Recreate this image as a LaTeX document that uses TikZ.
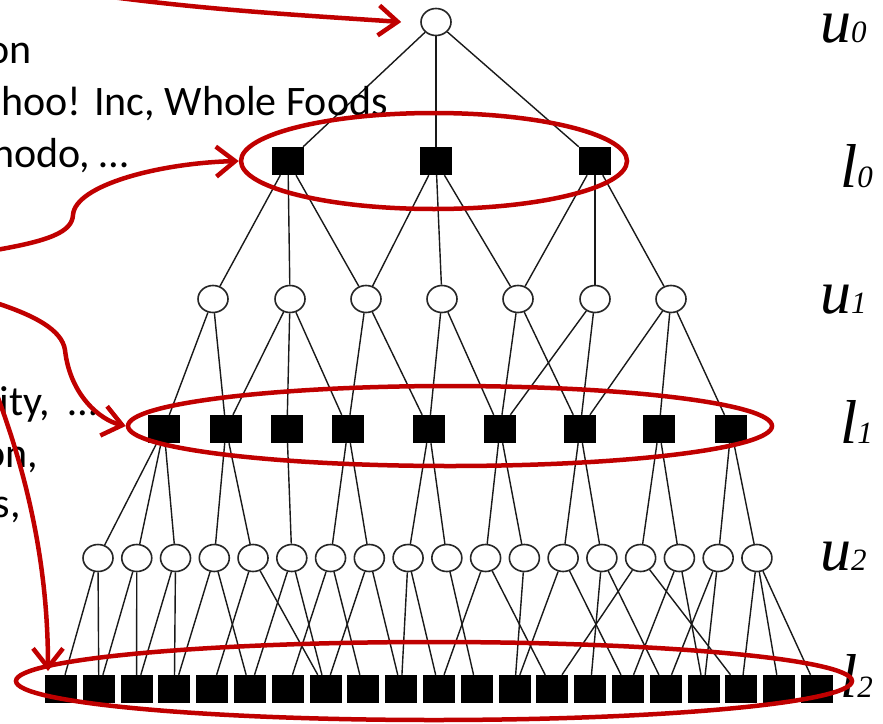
\documentclass[tikz,border=0pt]{standalone}
\usepackage{fontspec}
\setmainfont{Carlito}
\newfontfamily\timesfont{Liberation Serif}
\usetikzlibrary{shapes.geometric,arrows.meta}
\definecolor{myred}{RGB}{192,0,0}
\begin{document}
\begin{tikzpicture}[x=1pt,y=-1pt,
  circ/.style={draw=black!85,ellipse,line width=1.6pt,minimum width=30pt,minimum height=27pt,inner sep=0pt,fill=white},
  sq/.style={fill=black,minimum width=32pt,minimum height=28pt,inner sep=0pt},
  edge/.style={line width=1.4pt,black!90},
  ring/.style={draw=myred,line width=4.5pt,ellipse,inner sep=0pt},
  redarrow/.style={draw=myred,line width=4.5pt,-{Straight Barb[length=19pt,width=30pt]}},
  txt/.style={font=\fontsize{42}{50}\selectfont,inner sep=0pt},
  lab/.style={inner sep=0pt,anchor=base west}
]
\useasboundingbox (0,0) rectangle (883,723);
\fill[white] (0,0) rectangle (883,723);
\clip (0,0) rectangle (883,723);

% graph nodes
\node[circ] (u0) at (436,22) {};
\foreach \i/\x in {1/288,2/436,3/595} \node[sq] (l0-\i) at (\x,161) {};
\foreach \i/\x in {1/213,2/290,3/366,4/442,5/518,6/595,7/671} \node[circ] (u1-\i) at (\x,299) {};
\foreach \i/\x in {1/164,2/226,3/287,4/348,5/429,6/500,7/580,8/659,9/731} \node[sq] (l1-\i) at (\x,429) {};
\foreach \i in {1,...,18} \node[circ] (u2-\i) at ({98+38.76*(\i-1)},558) {};
\foreach \i in {1,...,21} \node[sq] (l2-\i) at ({61+37.8*(\i-1)},689) {};

% edges
\foreach \i in {1,2,3} \draw[edge] (u0) -- (l0-\i);
\foreach \a/\b in {1/1,1/2,1/3,2/3,2/4,2/5,3/5,3/6,3/7} \draw[edge] (l0-\a) -- (u1-\b);
\foreach \a/\b in {1/1,1/2,2/2,2/3,2/4,3/4,3/5,4/5,4/6,5/6,5/7,6/6,6/7,7/7,7/8,7/9} \draw[edge] (u1-\a) -- (l1-\b);
\foreach \a/\b in {1/1,1/2,1/3,2/4,2/5,3/6,4/7,4/8,5/9,5/10,6/11,6/12,7/13,7/14,8/15,8/16,9/17,9/18} \draw[edge] (l1-\a) -- (u2-\b);
\foreach \a/\b in {1/1,1/2,2/2,2/3,3/3,3/4,4/4,4/6,5/5,5/8,6/6,6/8,7/7,7/9,8/8,8/10,9/10,9/11,10/12,11/11,11/14,12/13,13/13,13/16,14/15,14/17,15/14,15/19,16/16,16/18,17/17,17/18,18/19,18/20,18/21} \draw[edge] (u2-\a) -- (l2-\b);

% level labels
\node[lab] (Lu0) at (820,42) {\timesfont\itshape\fontsize{62}{62}\selectfont u\fontsize{31}{31}\selectfont 0};
\node[lab] (Ll0) at (840,187) {\timesfont\itshape\fontsize{62}{62}\selectfont l\fontsize{31}{31}\selectfont 0};
\node[lab] (Lu1) at (820,313) {\timesfont\itshape\fontsize{62}{62}\selectfont u\fontsize{31}{31}\selectfont 1};
\node[lab] (Ll1) at (840,443) {\timesfont\itshape\fontsize{62}{62}\selectfont l\fontsize{31}{31}\selectfont 1};
\node[lab] (Lu2) at (820,570) {\timesfont\itshape\fontsize{62}{62}\selectfont u\fontsize{31}{31}\selectfont 2};
\node[lab] (Ll2) at (840,697) {\timesfont\itshape\fontsize{62}{62}\selectfont l\fontsize{31}{31}\selectfont 2};

% left texts (cut off by the picture edge, as in the reference)
\node[txt,anchor=base east] (T1) at (32,63) {on};
\node[txt,anchor=base east] (T2) at (388,115) {hoo! Inc, Whole Foods};
\node[txt,anchor=base east] (T3) at (129,167) {nodo, …};
\node[txt,anchor=base east] (T4) at (98,415) {ity,\ \ …};
\node[txt,anchor=base east] (T5) at (38,467) {on,};
\node[txt,anchor=base east] (T6) at (21,517) {s,};

% red rings
\node[ring,minimum width=386pt,minimum height=96pt] (E0) at (434,161) {};
\node[ring,minimum width=644pt,minimum height=80pt] (E1) at (450,426) {};
\node[ring,minimum width=836pt,minimum height=78pt] (E2) at (434,681) {};

% red arrows
\coordinate (Astart) at (75,-8);
\coordinate (Bstart) at (-10,251);
\coordinate (Cstart) at (-10,301);
\coordinate (Dstart) at (-3,395);
\coordinate (Dend) at (48,671);
\draw[redarrow] (Astart) .. controls (200,10) and (300,15) .. ([xshift=-19pt]u0.west);
\draw[redarrow] (Bstart) .. controls (50,241) and (72,232) .. (73,215) .. controls (75,185) and (160,163) .. (E0.west);
\draw[redarrow] (Cstart) .. controls (35,315) and (62,330) .. (65,350) .. controls (70,395) and (100,420) .. (E1.west);
\draw[redarrow] (Dstart) .. controls (25,470) and (48,560) .. (Dend);
\end{tikzpicture}
\end{document}
